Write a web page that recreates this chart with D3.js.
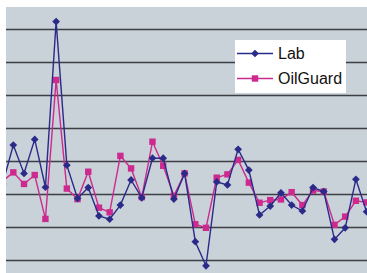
<!DOCTYPE html>
<html><head><meta charset="utf-8">
<script src="https://cdn.jsdelivr.net/npm/d3@7"></script>
<style>html,body{margin:0;padding:0;background:#fff;overflow:hidden}</style>
</head><body>
<svg id="c" width="367" height="273"></svg>
<script>
const seriesNames = ["Lab", "OilGuard"];
const lab = [2.32,3.50,2.64,3.67,2.22,7.24,2.89,1.88,2.21,1.35,1.25,1.68,2.44,1.90,3.10,3.10,1.86,2.64,0.57,-0.16,2.38,2.29,3.37,2.74,1.38,1.65,2.05,1.68,1.50,2.21,2.09,0.64,0.99,2.46,1.48];
const oilGuard = [2.41,2.67,2.32,2.59,1.26,5.47,2.18,1.86,2.69,1.60,1.46,3.17,2.79,1.92,3.60,2.87,1.96,2.64,1.10,0.99,2.51,2.61,3.05,2.36,1.75,1.83,1.85,2.07,1.68,2.12,2.09,1.08,1.33,1.81,1.76];
const yTicks = [0,1,2,3,4,5,6,7];

const svg = d3.select("#c");
const plot = {x0: 6, y0: 7, x1: 367, y1: 273};

const x = d3.scaleLinear().domain([0, lab.length - 1]).range([2.6, 366.6]);
const y = d3.scaleLinear().domain([-0.379, 7.682]).range([plot.y1, plot.y0]);

svg.append("defs").append("clipPath").attr("id", "pc")
  .append("rect").attr("x", plot.x0).attr("y", plot.y0)
  .attr("width", plot.x1 - plot.x0).attr("height", plot.y1 - plot.y0);

svg.append("rect").attr("x", plot.x0).attr("y", plot.y0)
  .attr("width", plot.x1 - plot.x0).attr("height", plot.y1 - plot.y0)
  .attr("fill", "#c9d1d9");

const g = svg.append("g").attr("clip-path", "url(#pc)");

g.selectAll("line.grid").data(yTicks).join("line").attr("class", "grid")
  .attr("x1", plot.x0).attr("x2", plot.x1)
  .attr("y1", d => y(d)).attr("y2", d => y(d))
  .attr("stroke", "#3c3f44").attr("stroke-width", 1.6);

const colors = {Lab: "#2a2a88", OilGuard: "#cc2a8e"};
const line = d3.line().x((d, i) => x(i)).y(d => y(d));
const diamond = d3.symbol().type(d3.symbolDiamond2).size(38);

function drawSeries(data, name, shape) {
  g.append("path").datum(data).attr("d", line)
    .attr("fill", "none").attr("stroke", colors[name]).attr("stroke-width", 1.4);
  if (shape === "diamond") {
    g.selectAll("path.d" + name).data(data).join("path").attr("class", "d" + name)
      .attr("d", diamond)
      .attr("transform", (d, i) => `translate(${x(i)},${y(d)})`)
      .attr("fill", colors[name]);
  } else {
    g.selectAll("rect.s" + name).data(data).join("rect").attr("class", "s" + name)
      .attr("x", (d, i) => x(i) - 3.2).attr("y", d => y(d) - 3.2)
      .attr("width", 6.4).attr("height", 6.4).attr("fill", colors[name]);
  }
}
drawSeries(oilGuard, "OilGuard", "square");
drawSeries(lab, "Lab", "diamond");

// legend
const lg = svg.append("g");
lg.append("rect").attr("x", 235).attr("y", 40).attr("width", 111).attr("height", 53).attr("fill", "#ffffff");
const items = [{name: seriesNames[0], y: 53.5, shape: "diamond"}, {name: seriesNames[1], y: 78.5, shape: "square"}];
items.forEach(it => {
  lg.append("line").attr("x1", 237).attr("x2", 273).attr("y1", it.y).attr("y2", it.y)
    .attr("stroke", colors[it.name]).attr("stroke-width", 1.4);
  if (it.shape === "diamond") {
    lg.append("path").attr("d", diamond)
      .attr("transform", `translate(255,${it.y})`).attr("fill", colors[it.name]);
  } else {
    lg.append("rect").attr("x", 251.8).attr("y", it.y - 3.2).attr("width", 6.4).attr("height", 6.4)
      .attr("fill", colors[it.name]);
  }
  lg.append("text").attr("x", 278).attr("y", it.y).attr("dy", "0.36em")
    .attr("font-family", "Liberation Sans, Arial, sans-serif").attr("font-size", 16)
    .attr("fill", "#111").text(it.name);
});
</script>
</body></html>
